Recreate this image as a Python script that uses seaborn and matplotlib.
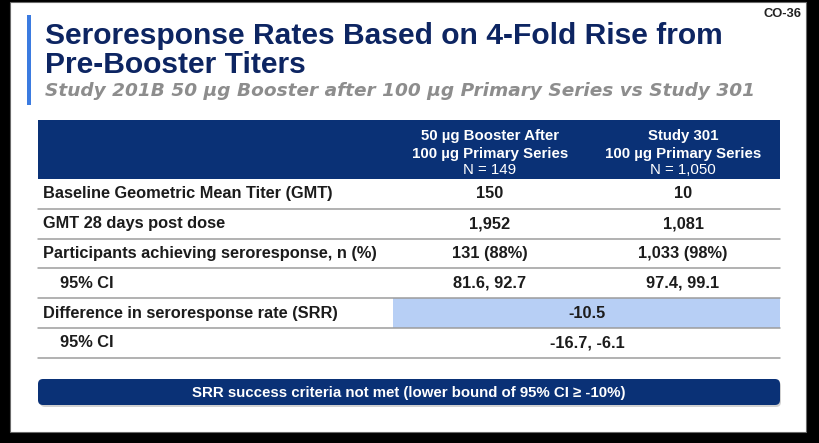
import matplotlib
matplotlib.use("Agg")
import matplotlib.pyplot as plt
from matplotlib.patches import Rectangle, FancyBboxPatch
import seaborn as sns

# Slide content
title_lines = ["Seroresponse Rates Based on 4-Fold Rise from", "Pre-Booster Titers"]
subtitle = "Study 201B 50 µg Booster after 100 µg Primary Series vs Study 301"
slide_tag = "CO-36"

col_headers = [
    ["50 µg Booster After", "100 µg Primary Series", "N = 149"],
    ["Study 301", "100 µg Primary Series", "N = 1,050"],
]

row_labels = [
    "Baseline Geometric Mean Titer (GMT)",
    "GMT 28 days post dose",
    "Participants achieving seroresponse, n (%)",
    "95% CI",
    "Difference in seroresponse rate (SRR)",
    "95% CI",
]
row_indent = [False, False, False, True, False, True]
booster_vals = ["150", "1,952", "131 (88%)", "81.6, 92.7", None, None]
study301_vals = ["10", "1,081", "1,033 (98%)", "97.4, 99.1", None, None]
merged_vals = [None, None, None, None, "-10.5", "-16.7, -6.1"]
highlight_rows = [False, False, False, False, True, False]

footer_note = "SRR success criteria not met (lower bound of 95% CI \u2265 -10%)"

# Colours
NAVY = "#0a3176"
TITLE_NAVY = "#0d2562"
LIGHT_BLUE = "#b7cff5"
GRAY_TXT = "#8d8d8d"
LINE_GRAY = "#9c9c9c"
ACCENT = "#3b7be0"
BODY_TXT = "#1c1c1c"

sns.set_theme(style="white")
plt.rcParams["font.family"] = ["Liberation Sans", "DejaVu Sans"]

W, H = 819, 443
fig = plt.figure(figsize=(W / 100, H / 100), dpi=100)
fig.patch.set_facecolor("black")
ax = fig.add_axes([0, 0, 1, 1])
ax.set_xlim(0, W)
ax.set_ylim(H, 0)
ax.axis("off")

# slide background
ax.add_patch(Rectangle((10, 2), 796, 430, facecolor="white", edgecolor="#6a6a6a", lw=0.8))
ax.add_patch(Rectangle((27, 15), 4, 90, facecolor=ACCENT, edgecolor="none"))

ax.text(802, 14, slide_tag, ha="right", va="center", fontsize=9.3, fontweight="bold", color="#222222")
ax.text(45, 43.5, title_lines[0], ha="left", va="baseline", fontsize=21.6, fontweight="bold", color=TITLE_NAVY)
ax.text(45, 73, title_lines[1], ha="left", va="baseline", fontsize=21.6, fontweight="bold", color=TITLE_NAVY)
ax.text(45, 96, subtitle, ha="left", va="baseline", fontsize=13.3, fontweight="bold",
        fontstyle="italic", family="DejaVu Sans", color=GRAY_TXT)

# table geometry
tx0, tx1 = 38, 780
split_x = 393
col_x = [490, 683]
merged_x = 587
head_top, head_bot = 120, 179
row_h = 29.8

ax.add_patch(Rectangle((tx0, head_top), tx1 - tx0, head_bot - head_top, facecolor=NAVY, edgecolor="none"))
for cx, lines in zip(col_x, col_headers):
    for j, (ty, line) in enumerate(zip([136, 154, 170.5], lines)):
        ax.text(cx, ty, line, ha="center", va="center", fontsize=10.8, color="white",
                fontweight="bold" if j < 2 else "normal")

for i, label in enumerate(row_labels):
    y0 = head_bot + i * row_h
    yc = y0 + row_h / 2
    if highlight_rows[i]:
        ax.add_patch(Rectangle((split_x, y0), tx1 - split_x, row_h, facecolor=LIGHT_BLUE, edgecolor="none"))
    ax.plot([tx0, tx1], [y0 + row_h, y0 + row_h], color=LINE_GRAY, lw=1.1)
    lx = 60 if row_indent[i] else 43
    ax.text(lx, yc, label, ha="left", va="center", fontsize=11.8, fontweight="bold", color=BODY_TXT)
    if merged_vals[i] is not None:
        ax.text(merged_x, yc, merged_vals[i], ha="center", va="center", fontsize=11.8,
                fontweight="bold", color=BODY_TXT)
    else:
        ax.text(col_x[0], yc, booster_vals[i], ha="center", va="center", fontsize=11.8,
                fontweight="bold", color=BODY_TXT)
        ax.text(col_x[1], yc, study301_vals[i], ha="center", va="center", fontsize=11.8,
                fontweight="bold", color=BODY_TXT)

# conclusion banner
ax.add_patch(FancyBboxPatch((40, 381), 741, 26, boxstyle="round,pad=0,rounding_size=5",
                            facecolor="#9a9a9a", edgecolor="none", alpha=0.45))
ax.add_patch(FancyBboxPatch((38, 379), 742, 26, boxstyle="round,pad=0,rounding_size=5",
                            facecolor=NAVY, edgecolor="none"))
ax.text(409, 392.5, footer_note, ha="center", va="center", fontsize=10.8, fontweight="bold", color="white")

fig.savefig("out.png", dpi=100, facecolor=fig.get_facecolor())
